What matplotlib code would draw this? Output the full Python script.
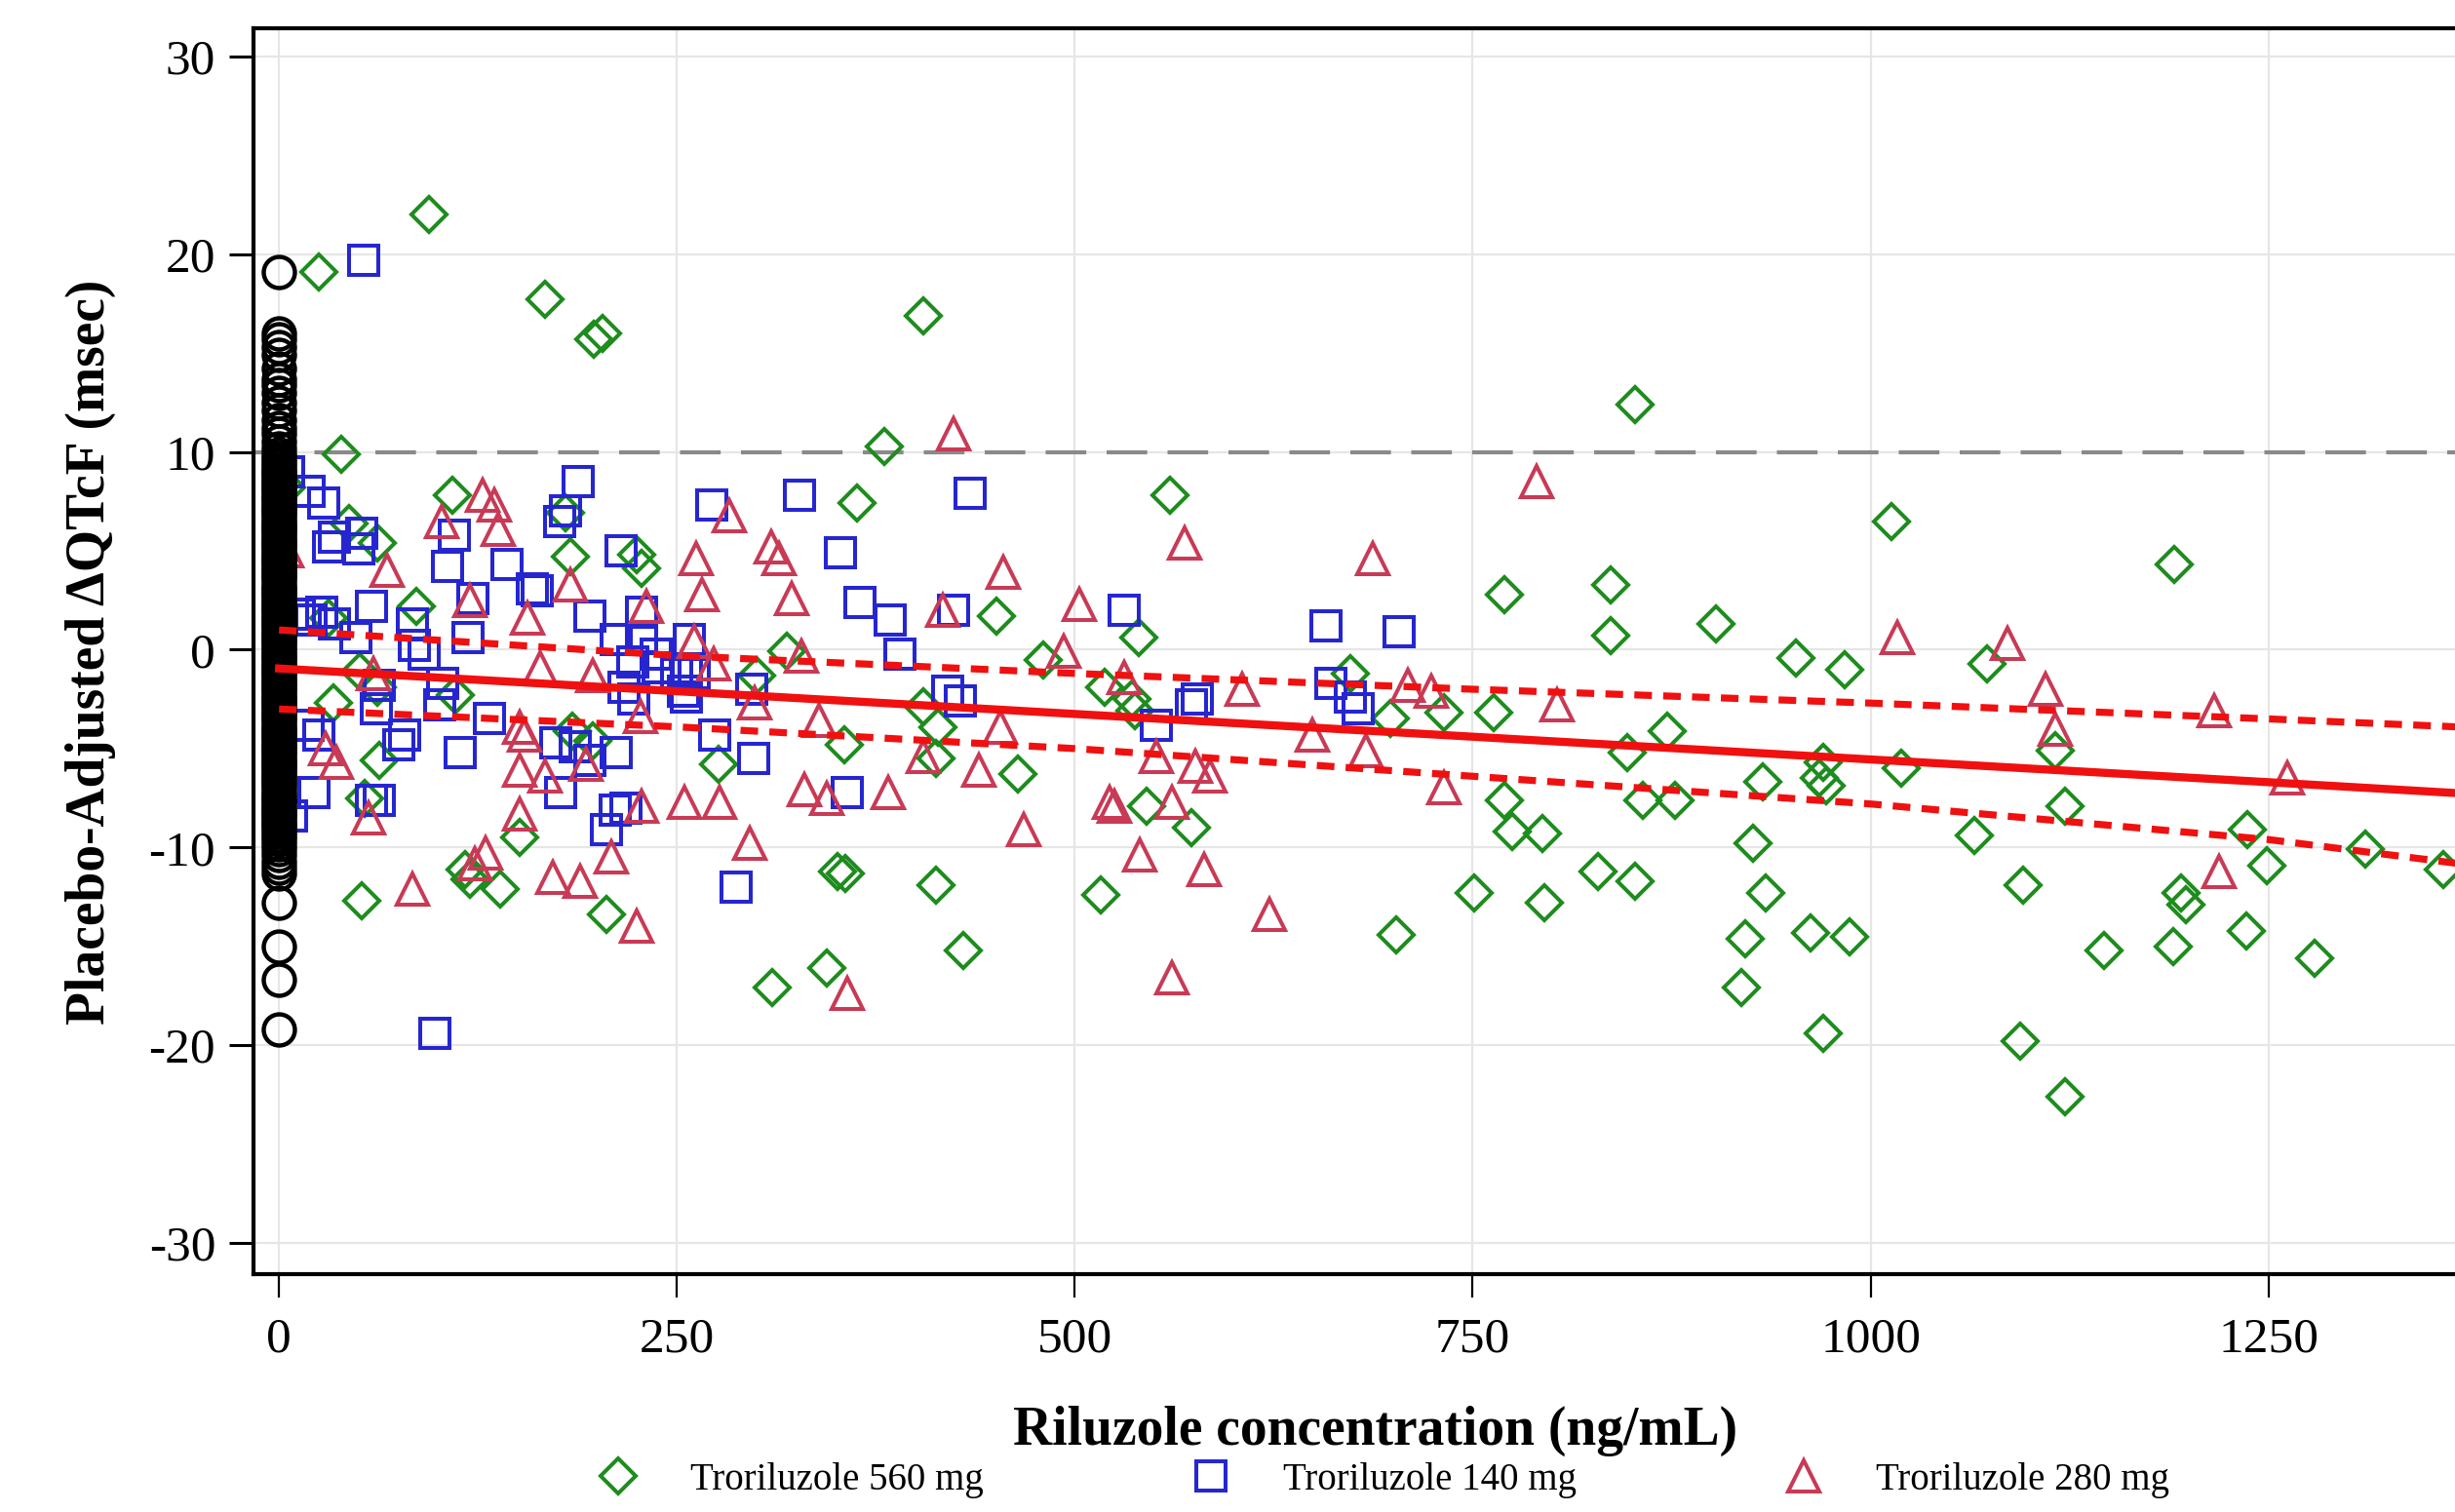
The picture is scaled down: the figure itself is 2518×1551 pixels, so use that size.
import matplotlib
matplotlib.use("Agg")
import matplotlib.pyplot as plt
import numpy as np

plt.rcParams['font.family'] = ['Liberation Serif', 'DejaVu Serif']
plt.rcParams['axes.unicode_minus'] = False

# placebo (all at concentration 0)
placebo_y = [19.1, 16.0, 15.7, 15.3, 14.9, 14.2, 13.7, 13.4, 13.0, 12.5, 12.1, 11.6,
             11.2, 10.9, 10.5, 10.2, 9.9, 9.7, 9.5, 9.3, 9.1, 8.95, 8.8, 8.6, 8.45,
             8.3, 8.15, 8.0, 7.8, 7.65, 7.5, 7.3, 7.15, 7.0, 6.85, 6.7, 6.5, 6.35,
             6.2, 6.05, 5.9, 5.7, 5.55, 5.4, 5.25, 5.1, 4.9, 4.75, 4.6, 4.45, 4.3,
             4.1, 3.95, 3.8, 3.65, 3.5, 3.3, 3.15, 3.0, 2.85, 2.7, 2.5, 2.35, 2.2,
             2.05, 1.9, 1.7, 1.55, 1.4, 1.25, 1.1, 0.9, 0.75, 0.6, 0.45, 0.3, 0.1,
             -0.05, -0.2, -0.35, -0.5, -0.7, -0.85, -1.0, -1.15, -1.3, -1.5, -1.65,
             -1.8, -1.95, -2.1, -2.3, -2.45, -2.6, -2.75, -2.9, -3.1, -3.25, -3.4,
             -3.55, -3.7, -3.9, -4.05, -4.2, -4.35, -4.5, -4.7, -4.85, -5.0, -5.15,
             -5.3, -5.5, -5.65, -5.8, -5.95, -6.1, -6.3, -6.45, -6.6, -6.75, -6.9,
             -7.1, -7.25, -7.4, -7.55, -7.7, -7.9, -8.05, -8.2, -8.35, -8.5, -8.7,
             -8.85, -9.0, -9.2, -9.4, -9.6, -9.85, -10.1, -10.4, -10.7, -11.0, -11.3,
             -12.8, -15.0, -16.7, -19.2]

# green diamonds
g_x = [94, 25, 167, 198, 203, 405, 852, 39, 380, 5, 109, 363, 560, 1013, 44, 62,
       180, 183, 225, 228, 1191, 770, 837, 86, 451, 903, 837, 540, 319, 953, 1073,
       480, 984, 673, 300, 519, 111, 62, 34, 536, 538, 405, 763, 732, 698, 414,
       872, 184, 197, 970, 847, 1116, 413, 1019, 276, 464, 355, 63, 932, 968, 972,
       545, 770, 1122, 857, 877, 54, 573, 775, 794, 1065, 1237, 151, 926, 1311,
       117, 120, 351, 356, 829, 852, 1249, 1360, 413, 934, 139, 751, 516, 1096,
       1195, 1198, 52, 795, 206, 1236, 962, 987, 921, 702, 430, 1147, 1190, 1279,
       344, 310, 919, 970, 1094, 1122, 31, 51]
g_y = [22.0, 19.1, 17.7, 15.7, 16.0, 16.9, 12.4, 9.9, 10.3, 8.2, 7.8, 7.4, 7.8,
       6.5, 6.4, 5.4, 6.9, 4.7, 4.8, 4.1, 4.3, 2.8, 3.3, 2.2, 1.7, 1.3, 0.7, 0.6,
       -0.1, -0.4, -0.7, -0.5, -1.0, -1.2, -1.3, -1.9, -2.3, -1.9, -2.7, -2.5,
       -3.1, -2.9, -3.2, -3.2, -3.5, -3.9, -4.1, -4.1, -4.6, -5.7, -5.2, -5.1,
       -5.5, -6.0, -5.8, -6.3, -4.8, -5.6, -6.7, -6.5, -6.9, -7.9, -7.6, -7.9,
       -7.6, -7.6, -7.5, -9.0, -9.2, -9.3, -9.4, -9.1, -9.5, -9.8, -10.1, -11.1,
       -11.6, -11.2, -11.3, -11.2, -11.7, -10.9, -11.1, -11.9, -12.3, -12.1, -12.3,
       -12.4, -11.9, -12.3, -12.9, -12.7, -12.8, -13.4, -14.2, -14.3, -14.5, -14.6,
       -14.4, -15.2, -15.2, -15.0, -15.6, -16.1, -17.1, -17.1, -19.4, -19.8, -22.6,
       1.6, -1.1]

# blue squares
b_x = [53, 98, 19, 28, 188, 272, 327, 434, 110, 176, 180, 35, 31, 52, 50, 215, 353,
       106, 143, 159, 162, 122, 365, 228, 424, 531, 195, 384, 658, 704, 13, 20, 27,
       35, 58, 84, 119, 212, 228, 258, 390, 85, 91, 48, 238, 250, 256, 261, 222,
       237, 217, 223, 420, 428, 577, 573, 678, 673, 661, 551, 297, 254, 256, 274,
       298, 186, 195, 174, 212, 114, 132, 101, 103, 18, 25, 79, 75, 61, 63, 22, 58,
       63, 357, 177, 211, 218, 206, 287, 8, 6]
b_y = [19.7, -19.4, 8.0, 7.4, 8.5, 7.3, 7.8, 7.9, 5.8, 6.5, 7.0, 5.7, 5.2, 5.9,
       5.1, 5.0, 4.9, 4.2, 4.3, 3.1, 3.0, 2.6, 2.4, 1.9, 2.0, 2.0, 1.7, 1.5, 1.2,
       0.9, 1.8, 1.5, 1.9, 1.3, 2.2, 1.3, 0.6, 0.5, 0.6, 0.5, -0.2, 0.2, -0.2, 0.6,
       -0.9, -1.2, -1.0, -1.2, -0.6, -0.2, -1.9, -2.5, -2.1, -2.6, -2.5, -2.8, -3.0,
       -2.4, -1.7, -3.8, -2.0, -2.1, -2.4, -4.3, -5.5, -4.9, -5.6, -4.7, -5.2, -5.2,
       -3.5, -2.8, -1.7, -3.8, -4.3, -4.3, -4.8, -3.0, -1.8, -7.2, -7.6, -7.6, -7.2,
       -7.2, -8.1, -8.0, -9.1, -12.0, -8.4, 9.0]

# red triangles
r_x = [424, 790, 128, 135, 283, 138, 102, 569, 309, 314, 262, 687, 455, 68, 183, 120,
       266, 322, 231, 503, 417, 156, 1017, 1086, 261, 493, 164, 328, 273, 197, 531,
       1110, 605, 724, 709, 299, 1116, 1216, 803, 649, 453, 339, 227, 151, 154, 683,
       551, 405, 576, 585, 440, 151, 167, 193, 1262, 732, 330, 344, 383, 522, 525,
       561, 277, 255, 228, 151, 56, 468, 296, 541, 209, 130, 123, 1219, 581, 172,
       189, 84, 622, 225, 561, 357, 5, 59, 29, 36]
r_y = [10.9, 8.5, 7.8, 7.3, 6.8, 6.1, 6.5, 5.4, 5.2, 4.6, 4.6, 4.6, 3.9, 4.0, 3.3,
       2.5, 2.8, 2.6, 2.2, 2.3, 2.0, 1.6, 0.6, 0.3, 0.4, -0.1, -0.9, -0.3, -0.7,
       -1.3, -1.4, -2.0, -2.0, -2.1, -1.8, -2.7, -4.0, -3.1, -2.8, -4.3, -3.9, -3.6,
       -3.4, -3.9, -4.3, -5.1, -5.4, -5.4, -5.9, -6.4, -6.1, -6.1, -6.4, -5.8, -6.5,
       -7.0, -7.1, -7.5, -7.2, -7.7, -7.9, -7.7, -7.7, -7.7, -7.9, -8.3, -8.5, -9.1,
       -9.8, -10.4, -10.5, -10.3, -10.8, -11.2, -11.1, -11.5, -11.7, -12.1, -13.4,
       -14.0, -16.6, -17.4, 5.0, -1.2, -5.0, -5.7]

# regression line and 90% CI, read at these concentrations
fit_x = [0, 250, 500, 750, 1000, 1250, 1368]
fit_y = [-0.95, -2.1, -3.25, -4.4, -5.55, -6.7, -7.25]
ci_hi = [1.0, -0.3, -1.2, -2.0, -2.7, -3.5, -3.9]
ci_lo = [-3.0, -3.9, -5.0, -6.4, -7.8, -9.6, -10.8]

labels = ['Troriluzole 560 mg', 'Troriluzole 140 mg', 'Troriluzole 280 mg']

fig = plt.figure(figsize=(25.18, 15.51), dpi=100)
ax = fig.add_axes([0.1033, 0.157, 0.9134, 0.824])

ax.grid(True, color='#e6e6e6', linewidth=1.6)
ax.axhline(10, color='#8a8a8a', linewidth=3.0, dashes=(10, 5), zorder=2)

mew = 2.9
ax.plot(g_x, g_y, linestyle='none', marker='D', markersize=18.5, mfc='none',
        mec='#1e8c1e', mew=mew, label=labels[0], zorder=3)
ax.plot(b_x, b_y, linestyle='none', marker='s', markersize=22, mfc='none',
        mec='#2626d0', mew=mew, label=labels[1], zorder=3)
ax.plot(r_x, r_y, linestyle='none', marker='^', markersize=23, mfc='none',
        mec='#c83a55', mew=mew, label=labels[2], zorder=3)
ax.plot(np.zeros(len(placebo_y)), placebo_y, linestyle='none', marker='o',
        markersize=23, mfc='none', mec='black', mew=3.2, zorder=4)

ax.plot(fit_x, fit_y, color='#f01010', linewidth=6.0, zorder=5)
ax.plot(fit_x, ci_hi, color='#f01010', linewidth=5.2, dashes=(2.5, 1.6), zorder=5)
ax.plot(fit_x, ci_lo, color='#f01010', linewidth=5.2, dashes=(2.5, 1.6), zorder=5)

ax.set_xlim(-16, 1393)
ax.set_ylim(-31.6, 31.4)
ax.set_xticks([0, 250, 500, 750, 1000, 1250])
ax.set_yticks([-30, -20, -10, 0, 10, 20, 30])

for s in ax.spines.values():
    s.set_linewidth(3.0)
ax.tick_params(axis='y', direction='out', length=18, width=2.2, pad=10, labelsize=37)
ax.tick_params(axis='x', direction='out', length=17, width=1.6, pad=14, labelsize=37)

ax.set_xlabel('Riluzole concentration (ng/mL)', fontsize=40, fontweight='bold', labelpad=32)
ax.set_ylabel('Placebo-Adjusted \u0394QTcF (msec)', fontsize=40, fontweight='bold', labelpad=24)

fig.legend(loc='lower center', bbox_to_anchor=(0.56, -0.006), ncol=3, frameon=False,
           fontsize=28, columnspacing=5.0, handletextpad=0.9, borderpad=0.1)

fig.savefig('out.png', dpi=100)
